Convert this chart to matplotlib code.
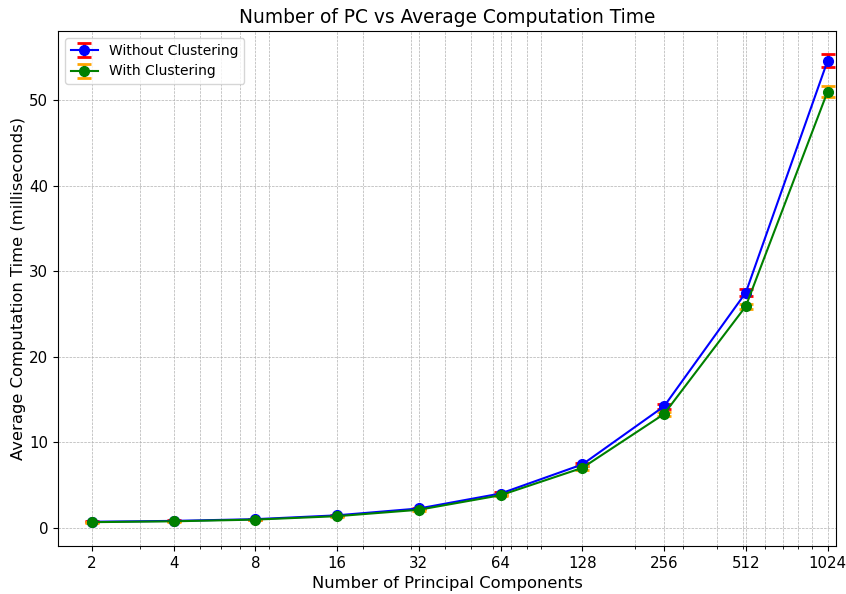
import matplotlib
matplotlib.use("Agg")
import matplotlib.pyplot as plt
from matplotlib.ticker import ScalarFormatter, NullFormatter

n_pc = [2, 4, 8, 16, 32, 64, 128, 256, 512, 1024]

# average computation time (ms)
time_without = [0.7, 0.8, 1.0, 1.45, 2.25, 4.0, 7.4, 14.2, 27.5, 54.6]
time_with = [0.65, 0.75, 0.95, 1.35, 2.1, 3.8, 7.0, 13.3, 25.9, 51.0]

# standard deviations
std_without = [0.05, 0.05, 0.06, 0.08, 0.1, 0.12, 0.2, 0.3, 0.4, 0.75]
std_with = [0.05, 0.05, 0.05, 0.07, 0.1, 0.12, 0.2, 0.25, 0.3, 0.6]

fig, ax = plt.subplots(figsize=(8.46, 5.94), dpi=100)
fig.subplots_adjust(left=58 / 846, right=836 / 846, top=1 - 31 / 594, bottom=1 - 546 / 594)

ax.errorbar(n_pc, time_without, yerr=std_without, fmt='-o', color='blue',
            ecolor='red', capsize=5, capthick=2, elinewidth=2, markersize=7,
            label='Without Clustering')
ax.errorbar(n_pc, time_with, yerr=std_with, fmt='-o', color='green',
            ecolor='orange', capsize=5, capthick=2, elinewidth=2, markersize=7,
            label='With Clustering')

ax.set_xscale('log')
ax.set_xlim(1.5, 1100)
ax.set_xticks(n_pc)
ax.xaxis.set_major_formatter(ScalarFormatter())
ax.xaxis.set_minor_formatter(NullFormatter())
ax.tick_params(labelsize=10.8)

ax.set_title('Number of PC vs Average Computation Time', fontsize=13.4)
ax.set_xlabel('Number of Principal Components', fontsize=11.8)
ax.set_ylabel('Average Computation Time (milliseconds)', fontsize=11.8, labelpad=2)
ax.grid(True, which='both', linestyle='--', linewidth=0.5)
ax.legend(loc='upper left', fontsize=10)

fig.savefig('out.png', dpi=100)
